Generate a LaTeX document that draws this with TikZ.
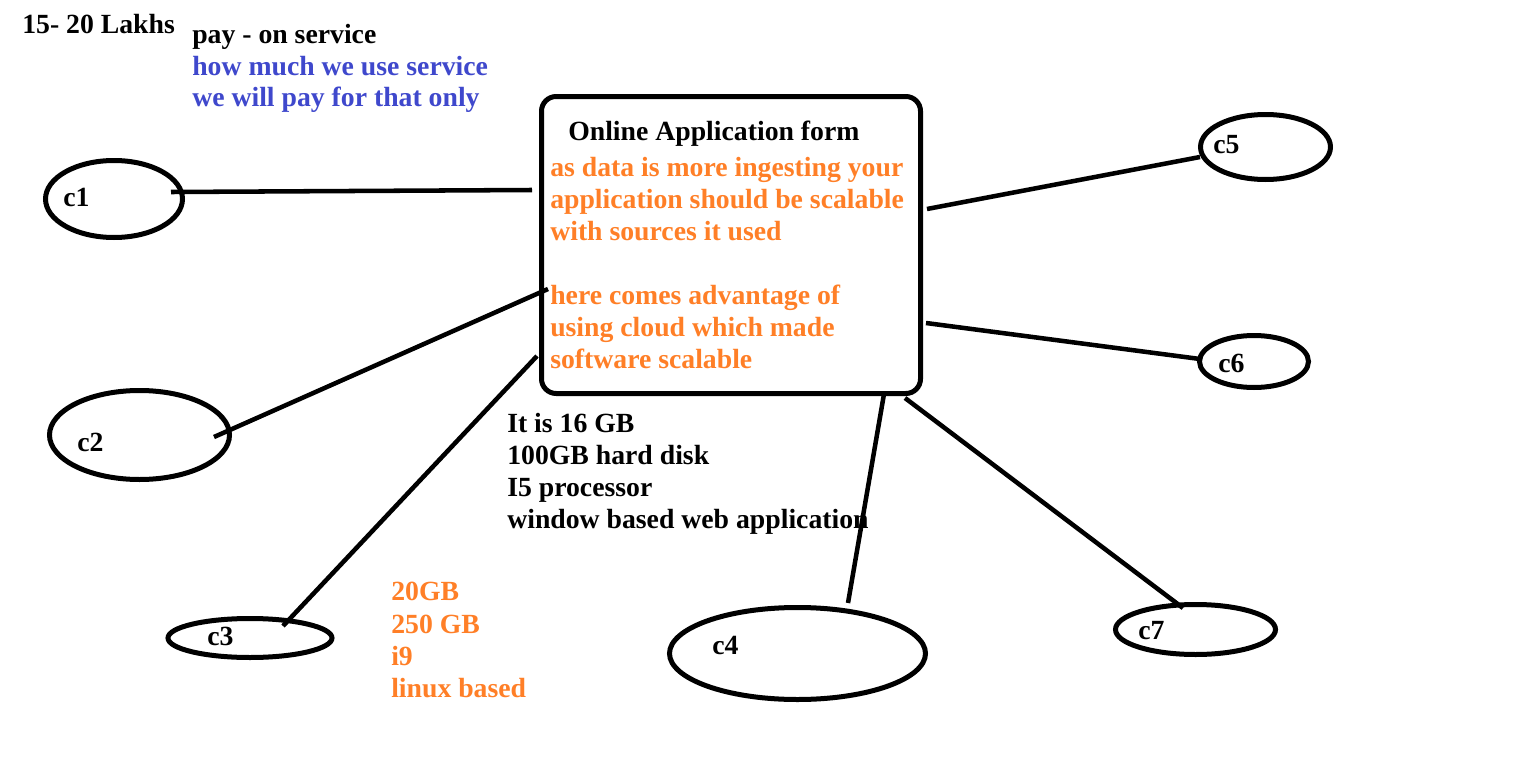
\documentclass[tikz,border=0pt]{standalone}
\usepackage{fontspec}
\setmainfont{Liberation Serif}
\usetikzlibrary{shapes.geometric}
\definecolor{paintorange}{HTML}{FF7F27}
\definecolor{paintblue}{HTML}{3F48CC}
\tikzset{
  txt/.style={anchor=base west, inner sep=0pt, font=\fontsize{20.8pt}{24pt}\selectfont\bfseries},
  blk/.style={txt, text=black},
  org/.style={txt, text=paintorange},
  blu/.style={txt, text=paintblue},
  cli/.style={draw, ellipse, line width=3.75pt, inner sep=0pt},
  conn/.style={line width=3.4pt},
}
\begin{document}
\begin{tikzpicture}[x=0.75pt,y=-0.75pt]
\useasboundingbox (0,0) rectangle (1522,760);
% top left texts
\node[blk] (lakhs) at (22,33) {15- 20 Lakhs};
\node[blk] (pay) at (192,43) {pay - on service};
\node[blu] (how) at (192,75) {how much we use service};
\node[blu] (only) at (192,106) {we will pay for that only};
% central box
\node[draw, line width=3.75pt, rounded corners=11pt, minimum width=284.25pt, minimum height=222.75pt] (app) at (731,245) {};
\node[blk] (title) at (568,140) {Online Application form};
\node[org] (o1) at (550,176) {as data is more ingesting your};
\node[org] (o2) at (550,208) {application should be scalable};
\node[org] (o3) at (550,240) {with sources it used};
\node[org] (o4) at (550,304) {here comes advantage of};
\node[org] (o5) at (550,336) {using cloud which made};
\node[org] (o6) at (550,368) {software scalable};
% specs
\node[blk] (s1) at (507,432) {It is 16 GB};
\node[blk] (s2) at (507,464) {100GB hard disk};
\node[blk] (s3) at (507,496) {I5 processor};
\node[blk] (s4) at (507,528) {window based web application};
\node[org] (l1) at (391,600) {20GB};
\node[org] (l2) at (391,633) {250 GB};
\node[org] (l3) at (391,665) {i9};
\node[org] (l4) at (391,697) {linux based};
% clients
\node[cli, minimum width=102.75pt, minimum height=57.75pt] (c1) at (114,199) {};
\node[cli, minimum width=135pt, minimum height=66.75pt] (c2) at (139.5,435) {};
\node[cli, minimum width=123pt, minimum height=29.25pt] (c3) at (250,638) {};
\node[cli, minimum width=192pt, minimum height=69pt] (c4) at (797.5,653.5) {};
\node[cli, minimum width=97.5pt, minimum height=48.75pt] (c5) at (1265.5,147) {};
\node[cli, minimum width=81.75pt, minimum height=39pt] (c6) at (1254,361.5) {};
\node[cli, minimum width=120pt, minimum height=37.5pt] (c7) at (1195.5,629.5) {};
\node[blk] (t1) at (63,206) {c1};
\node[blk] (t2) at (77,451) {c2};
\node[blk] (t3) at (207,645) {c3};
\node[blk] (t4) at (712,654) {c4};
\node[blk] (t5) at (1213,153) {c5};
\node[blk] (t6) at (1218,372) {c6};
\node[blk] (t7) at (1138,639) {c7};
% connector ends
\coordinate (e1) at (171,192);
\coordinate (a1) at (532,190);
\coordinate (e2) at (214,437);
\coordinate (a2) at (548,289);
\coordinate (e3) at (283,626);
\coordinate (a3) at (537,356);
\coordinate (e4) at (848,603);
\coordinate (a4) at (884,394);
\coordinate (e7) at (1183,608);
\coordinate (a7) at (905,398);
\coordinate (e6) at (1200,359);
\coordinate (a6) at (926,323);
\coordinate (e5) at (1200,157);
\coordinate (a5) at (927,209);
\draw[conn] (e1) -- (a1);
\draw[conn] (e2) -- (a2);
\draw[conn] (e3) -- (a3);
\draw[conn] (e4) -- (a4);
\draw[conn] (e5) -- (a5);
\draw[conn] (e6) -- (a6);
\draw[conn] (e7) -- (a7);
\end{tikzpicture}
\end{document}
